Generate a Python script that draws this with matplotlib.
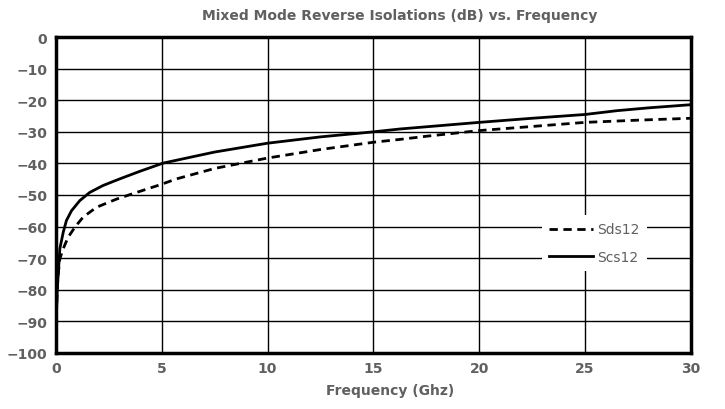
import numpy as np
import matplotlib.pyplot as plt

# Reverse isolation curves
freq_sds = [0.01, 0.03, 0.06, 0.1, 0.19, 0.35, 0.58, 0.9, 1.29, 1.92, 2.87, 3.81, 4.91, 5.7,
            7.5, 10, 12.5, 15, 16.25, 17.5, 20, 22.5, 25, 27.5, 30]
sds12 = [-93, -87, -81, -76, -70.2, -67, -63.4, -60.2, -57, -53.9, -51.3, -49.2, -46.8, -44.9,
         -41.6, -38.3, -35.6, -33.3, -32.4, -31.4, -29.6, -28.3, -27, -26.3, -25.7]

freq_scs = [0.01, 0.03, 0.06, 0.11, 0.19, 0.35, 0.5, 0.74, 1.13, 1.6, 2.23, 3.02, 3.97, 5.07,
            7.5, 10, 12.5, 15, 16.25, 17.5, 20, 22.5, 25, 26.5, 28, 30]
scs12 = [-93, -88, -81, -75.5, -67, -61.8, -58.1, -55, -51.8, -49.2, -47, -44.9, -42.5, -39.9,
         -36.4, -33.6, -31.6, -30, -29.1, -28.4, -27, -25.7, -24.5, -23.3, -22.4, -21.4]

grey = '#606060'

fig, ax = plt.subplots(figsize=(7.25, 4.1), dpi=100)
fig.subplots_adjust(left=0.077, right=0.953, top=0.907, bottom=0.137)

ax.plot(freq_sds, sds12, color='black', lw=2, ls=(0, (3, 2)), label='Sds12')
ax.plot(freq_scs, scs12, color='black', lw=2, label='Scs12')

ax.set_xlim(0, 30)
ax.set_ylim(-100, 0)
ax.set_xticks(np.arange(0, 31, 5))
ax.set_yticks(np.arange(-100, 1, 10))
ax.grid(True, color='black', lw=1)
ax.tick_params(length=0, pad=6, labelsize=10, labelcolor=grey)
for lbl in ax.get_xticklabels() + ax.get_yticklabels():
    lbl.set_fontweight('bold')
for sp in ax.spines.values():
    sp.set_linewidth(2.5)

ax.set_title('Mixed Mode Reverse Isolations (dB) vs. Frequency', x=0.542,
             fontsize=10, fontweight='bold', color=grey, pad=13)
ax.set_xlabel('Frequency (Ghz)', x=0.526, fontsize=10, fontweight='bold', color=grey, labelpad=6)

leg = ax.legend(loc='upper left', bbox_to_anchor=(0.754, 0.457), frameon=True, fancybox=False,
                edgecolor='none', framealpha=1, fontsize=10, handlelength=3.2,
                borderpad=0.5, labelspacing=0.95, handletextpad=0.3)
for t in leg.get_texts():
    t.set_color(grey)

fig.savefig('out.png', dpi=100)
